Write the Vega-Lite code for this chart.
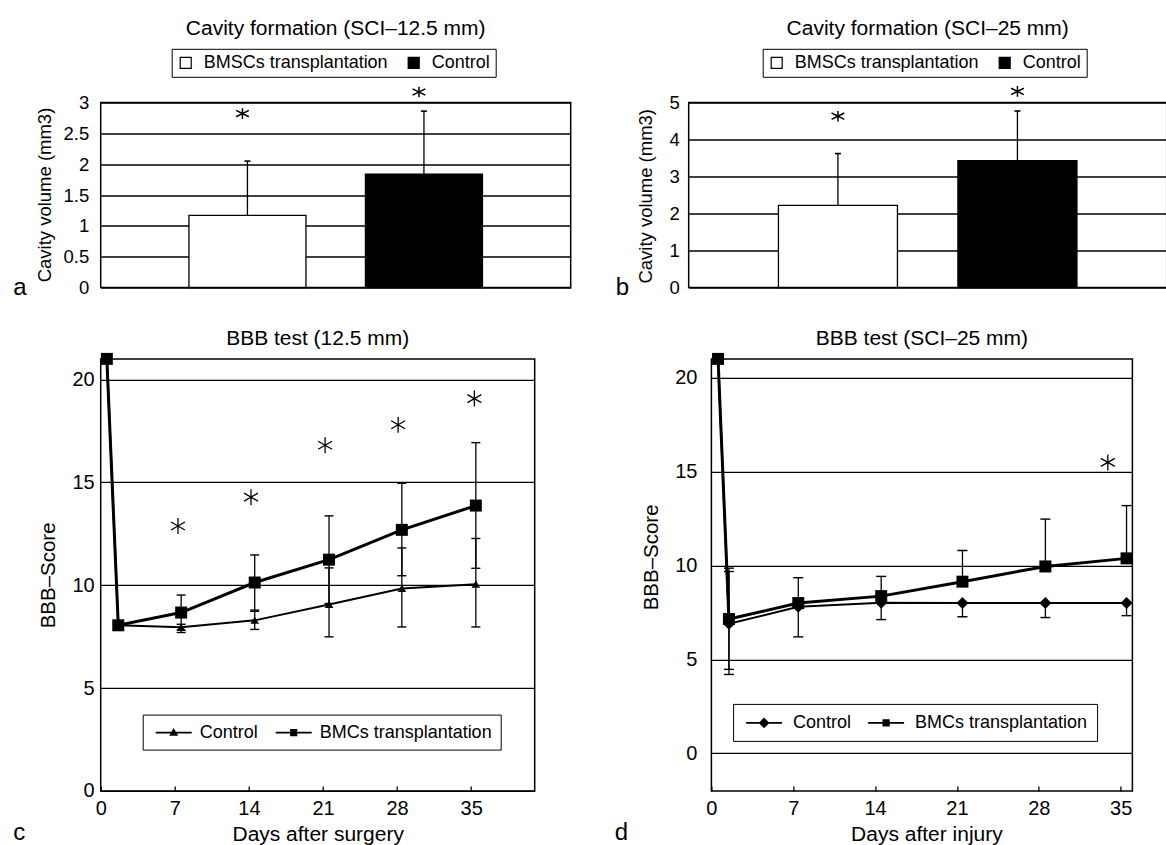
{
  "$schema": "https://vega.github.io/schema/vega-lite/v6.json",
  "background": "white",
  "padding": {"left": 11.7, "top": 16.5, "right": 0, "bottom": 0},
  "spacing": 25.4,
  "resolve": {"scale": {"fill": "independent", "shape": "independent"}},
  "config": {
    "font": "Liberation Sans",
    "view": {"stroke": "black", "strokeWidth": 1.5},
    "axis": {"labelColor": "black", "titleColor": "black", "titleFontWeight": "normal", "labelFont": "Liberation Sans", "titleFont": "Liberation Sans", "domain": false, "ticks": false, "grid": false, "gridColor": "black", "gridOpacity": 1, "gridWidth": 1.3, "labelFlush": false, "labelOverlap": false},
    "title": {"fontWeight": "normal", "color": "black", "font": "Liberation Sans"},
    "legend": {"labelColor": "black", "labelFont": "Liberation Sans", "labelLimit": 500}
  },
  "vconcat": [
    {
      "spacing": 42,
      "resolve": {"scale": {"fill": "independent"}},
      "hconcat": [
        {
          "width": 470,
          "height": 185,
          "title": {"text": "Cavity formation (SCI–12.5 mm)", "fontSize": 21, "baseline": "alphabetic", "offset": -7.6, "anchor": "middle"},
          "data": {"values": [
            {"group": "BMSCs transplantation", "volume": 1.17, "upper": 2.05, "star": 2.82},
            {"group": "Control", "volume": 1.84, "upper": 2.86, "star": 3.17}
          ]},
          "layer": [
            {
              "mark": {"type": "bar", "stroke": "black", "strokeWidth": 1.3},
              "encoding": {
                "x": {"field": "group", "type": "nominal", "sort": null, "scale": {"paddingInner": 0.337, "paddingOuter": 0.5},
                  "axis": {"labels": false, "title": "a", "titleX": -88, "titleY": 7.3, "titleAlign": "left", "titleBaseline": "alphabetic", "titleFontSize": 24, "titleAngle": 0}},
                "y": {"field": "volume", "type": "quantitative", "scale": {"domain": [0, 3], "nice": false},
                  "axis": {"values": [0, 0.5, 1, 1.5, 2, 2.5, 3], "format": "~g", "grid": true, "labelFontSize": 18.5, "labelPadding": 12, "title": "Cavity volume (mm3)", "titleFontSize": 18.5, "titleX": -50.3, "titleY": 92, "titleBaseline": "alphabetic", "titleAlign": "center", "titleAngle": -90}},
                "fill": {"field": "group", "type": "nominal", "scale": {"domain": ["BMSCs transplantation", "Control"], "range": ["white", "black"]},
                  "legend": {"orient": "none", "legendX": 71, "legendY": -53.7, "direction": "horizontal", "title": null, "strokeColor": "black", "fillColor": "white", "padding": 5, "labelFontSize": 18, "labelOffset": 9, "columnPadding": 16, "symbolType": "square", "symbolSize": 121, "symbolStrokeColor": "black", "symbolStrokeWidth": 1.2, "symbolOpacity": 1}}
              }
            },
            {
              "mark": {"type": "rule", "strokeWidth": 1.3, "color": "black"},
              "encoding": {
                "x": {"field": "group", "type": "nominal", "sort": null, "axis": {"labels": false, "title": "a", "titleX": -88, "titleY": 7.3, "titleAlign": "left", "titleBaseline": "alphabetic", "titleFontSize": 24, "titleAngle": 0}},
                "y": {"field": "volume", "type": "quantitative", "axis": {"values": [0, 0.5, 1, 1.5, 2, 2.5, 3], "format": "~g", "grid": true, "labelFontSize": 18.5, "labelPadding": 12, "title": "Cavity volume (mm3)", "titleFontSize": 18.5, "titleX": -50.3, "titleY": 92, "titleBaseline": "alphabetic", "titleAlign": "center", "titleAngle": -90}},
                "y2": {"field": "upper"}
              }
            },
            {
              "mark": {"type": "tick", "orient": "horizontal", "size": 6, "thickness": 1.6, "color": "black", "opacity": 1},
              "encoding": {
                "x": {"field": "group", "type": "nominal", "sort": null, "axis": {"labels": false, "title": "a", "titleX": -88, "titleY": 7.3, "titleAlign": "left", "titleBaseline": "alphabetic", "titleFontSize": 24, "titleAngle": 0}},
                "y": {"field": "upper", "type": "quantitative", "axis": {"values": [0, 0.5, 1, 1.5, 2, 2.5, 3], "format": "~g", "grid": true, "labelFontSize": 18.5, "labelPadding": 12, "title": "Cavity volume (mm3)", "titleFontSize": 18.5, "titleX": -50.3, "titleY": 92, "titleBaseline": "alphabetic", "titleAlign": "center", "titleAngle": -90}}
              }
            },
            {
              "mark": {"type": "point", "shape": "M0,-0.75L0,0.75M-0.9,-0.45L0.9,0.45M-0.9,0.45L0.9,-0.45", "size": 200, "stroke": "black", "strokeWidth": 1.5, "filled": false, "opacity": 1, "xOffset": -5},
              "encoding": {
                "x": {"field": "group", "type": "nominal", "sort": null, "axis": {"labels": false, "title": "a", "titleX": -88, "titleY": 7.3, "titleAlign": "left", "titleBaseline": "alphabetic", "titleFontSize": 24, "titleAngle": 0}},
                "y": {"field": "star", "type": "quantitative", "axis": {"values": [0, 0.5, 1, 1.5, 2, 2.5, 3], "format": "~g", "grid": true, "labelFontSize": 18.5, "labelPadding": 12, "title": "Cavity volume (mm3)", "titleFontSize": 18.5, "titleX": -50.3, "titleY": 92, "titleBaseline": "alphabetic", "titleAlign": "center", "titleAngle": -90}}
              }
            }
          ]
        },
        {
          "width": 478,
          "height": 185,
          "title": {"text": "Cavity formation (SCI–25 mm)", "fontSize": 21, "baseline": "alphabetic", "offset": -7.6, "anchor": "middle"},
          "data": {"values": [
            {"group": "BMSCs transplantation", "volume": 2.22, "upper": 3.62, "star": 4.63},
            {"group": "Control", "volume": 3.43, "upper": 4.77, "star": 5.3}
          ]},
          "layer": [
            {
              "mark": {"type": "bar", "stroke": "black", "strokeWidth": 1.3},
              "encoding": {
                "x": {"field": "group", "type": "nominal", "sort": null, "scale": {"paddingInner": 0.337, "paddingOuter": 0.5},
                  "axis": {"labels": false, "title": "b", "titleX": -73.4, "titleY": 7.3, "titleAlign": "left", "titleBaseline": "alphabetic", "titleFontSize": 24, "titleAngle": 0}},
                "y": {"field": "volume", "type": "quantitative", "scale": {"domain": [0, 5], "nice": false},
                  "axis": {"values": [0, 1, 2, 3, 4, 5], "format": "~g", "grid": true, "labelFontSize": 18.5, "labelPadding": 9.4, "title": "Cavity volume (mm3)", "titleFontSize": 18.5, "titleX": -37.3, "titleY": 93.3, "titleBaseline": "alphabetic", "titleAlign": "center", "titleAngle": -90}},
                "fill": {"field": "group", "type": "nominal", "scale": {"domain": ["BMSCs transplantation", "Control"], "range": ["white", "black"]},
                  "legend": {"orient": "none", "legendX": 74, "legendY": -53.7, "direction": "horizontal", "title": null, "strokeColor": "black", "fillColor": "white", "padding": 5, "labelFontSize": 18, "labelOffset": 9, "columnPadding": 16, "symbolType": "square", "symbolSize": 121, "symbolStrokeColor": "black", "symbolStrokeWidth": 1.2, "symbolOpacity": 1}}
              }
            },
            {
              "mark": {"type": "rule", "strokeWidth": 1.3, "color": "black"},
              "encoding": {
                "x": {"field": "group", "type": "nominal", "sort": null, "axis": {"labels": false, "title": "b", "titleX": -73.4, "titleY": 7.3, "titleAlign": "left", "titleBaseline": "alphabetic", "titleFontSize": 24, "titleAngle": 0}},
                "y": {"field": "volume", "type": "quantitative", "axis": {"values": [0, 1, 2, 3, 4, 5], "format": "~g", "grid": true, "labelFontSize": 18.5, "labelPadding": 9.4, "title": "Cavity volume (mm3)", "titleFontSize": 18.5, "titleX": -37.3, "titleY": 93.3, "titleBaseline": "alphabetic", "titleAlign": "center", "titleAngle": -90}},
                "y2": {"field": "upper"}
              }
            },
            {
              "mark": {"type": "tick", "orient": "horizontal", "size": 6, "thickness": 1.6, "color": "black", "opacity": 1},
              "encoding": {
                "x": {"field": "group", "type": "nominal", "sort": null, "axis": {"labels": false, "title": "b", "titleX": -73.4, "titleY": 7.3, "titleAlign": "left", "titleBaseline": "alphabetic", "titleFontSize": 24, "titleAngle": 0}},
                "y": {"field": "upper", "type": "quantitative", "axis": {"values": [0, 1, 2, 3, 4, 5], "format": "~g", "grid": true, "labelFontSize": 18.5, "labelPadding": 9.4, "title": "Cavity volume (mm3)", "titleFontSize": 18.5, "titleX": -37.3, "titleY": 93.3, "titleBaseline": "alphabetic", "titleAlign": "center", "titleAngle": -90}}
              }
            },
            {
              "mark": {"type": "point", "shape": "M0,-0.75L0,0.75M-0.9,-0.45L0.9,0.45M-0.9,0.45L0.9,-0.45", "size": 200, "stroke": "black", "strokeWidth": 1.5, "filled": false, "opacity": 1},
              "encoding": {
                "x": {"field": "group", "type": "nominal", "sort": null, "axis": {"labels": false, "title": "b", "titleX": -73.4, "titleY": 7.3, "titleAlign": "left", "titleBaseline": "alphabetic", "titleFontSize": 24, "titleAngle": 0}},
                "y": {"field": "star", "type": "quantitative", "axis": {"values": [0, 1, 2, 3, 4, 5], "format": "~g", "grid": true, "labelFontSize": 18.5, "labelPadding": 9.4, "title": "Cavity volume (mm3)", "titleFontSize": 18.5, "titleX": -37.3, "titleY": 93.3, "titleBaseline": "alphabetic", "titleAlign": "center", "titleAngle": -90}}
              }
            }
          ]
        }
      ]
    },
    {
      "spacing": 77.7,
      "resolve": {"scale": {"shape": "independent"}},
      "hconcat": [
        {
          "width": 434,
          "height": 432,
          "title": {"text": "BBB test (12.5 mm)", "fontSize": 21, "baseline": "alphabetic", "offset": -13.4, "anchor": "middle"},
          "data": {"values": [
            {"day": 0.58, "group": "Control", "score": 21},
            {"day": 1.66, "group": "Control", "score": 8.05},
            {"day": 7.6, "group": "Control", "score": 7.95, "lo": 7.7, "hi": 8.1},
            {"day": 14.55, "group": "Control", "score": 8.29, "lo": 7.85, "hi": 8.73},
            {"day": 21.57, "group": "Control", "score": 9.06, "lo": 7.49, "hi": 10.84},
            {"day": 28.45, "group": "Control", "score": 9.84, "lo": 7.97, "hi": 11.81},
            {"day": 35.44, "group": "Control", "score": 10.05, "lo": 7.97, "hi": 12.27},
            {"day": 0.58, "group": "BMCs transplantation", "score": 21},
            {"day": 1.66, "group": "BMCs transplantation", "score": 8.05},
            {"day": 7.6, "group": "BMCs transplantation", "score": 8.67, "lo": 7.82, "hi": 9.52},
            {"day": 14.55, "group": "BMCs transplantation", "score": 10.13, "lo": 8.79, "hi": 11.47},
            {"day": 21.57, "group": "BMCs transplantation", "score": 11.24, "lo": 9.11, "hi": 13.37},
            {"day": 28.45, "group": "BMCs transplantation", "score": 12.69, "lo": 10.46, "hi": 14.95},
            {"day": 35.44, "group": "BMCs transplantation", "score": 13.87, "lo": 10.82, "hi": 16.93}
          ]},
          "resolve": {"axis": {"x": "independent"}, "scale": {"shape": "independent"}},
          "layer": [
            {
              "transform": [{"filter": "datum.group === 'Control'"}],
              "mark": {"type": "line", "color": "black", "strokeWidth": 2},
              "encoding": {
                "x": {"field": "day", "type": "quantitative", "scale": {"domain": [0, 41], "nice": false, "zero": false},
                  "axis": {"orient": "bottom", "values": [0, 7, 14, 21, 28, 35], "ticks": true, "tickSize": -5, "tickColor": "black", "tickWidth": 1.3, "labelFontSize": 20, "labelPadding": 13, "title": "Days after surgery", "titleFontSize": 21, "titleX": 217, "titleY": 49.5, "titleBaseline": "alphabetic", "titleAlign": "center", "titleAngle": 0}},
                "y": {"field": "score", "type": "quantitative", "scale": {"domain": [0, 21], "nice": false},
                  "axis": {"values": [0, 5, 10, 15, 20], "grid": true, "labelFontSize": 20, "labelPadding": 6.5, "title": "BBB–Score", "titleFontSize": 20.5, "titleX": -46.1, "titleY": 216, "titleBaseline": "alphabetic", "titleAlign": "center", "titleAngle": -90}}
              }
            },
            {
              "transform": [{"filter": "datum.group === 'BMCs transplantation'"}],
              "mark": {"type": "line", "color": "black", "strokeWidth": 3},
              "encoding": {
                "x": {"field": "day", "type": "quantitative", "axis": null},
                "y": {"field": "score", "type": "quantitative", "axis": {"values": [0, 5, 10, 15, 20], "grid": true, "labelFontSize": 20, "labelPadding": 6.5, "title": "BBB–Score", "titleFontSize": 20.5, "titleX": -46.1, "titleY": 216, "titleBaseline": "alphabetic", "titleAlign": "center", "titleAngle": -90}}
              }
            },
            {
              "transform": [{"filter": "isValid(datum.hi)"}],
              "mark": {"type": "rule", "color": "black", "strokeWidth": 1.3},
              "encoding": {
                "x": {"field": "day", "type": "quantitative", "axis": null},
                "y": {"field": "score", "type": "quantitative", "axis": {"values": [0, 5, 10, 15, 20], "grid": true, "labelFontSize": 20, "labelPadding": 6.5, "title": "BBB–Score", "titleFontSize": 20.5, "titleX": -46.1, "titleY": 216, "titleBaseline": "alphabetic", "titleAlign": "center", "titleAngle": -90}},
                "y2": {"field": "hi"}
              }
            },
            {
              "transform": [{"filter": "isValid(datum.lo)"}],
              "mark": {"type": "rule", "color": "black", "strokeWidth": 1.3},
              "encoding": {
                "x": {"field": "day", "type": "quantitative", "axis": null},
                "y": {"field": "lo", "type": "quantitative", "axis": {"values": [0, 5, 10, 15, 20], "grid": true, "labelFontSize": 20, "labelPadding": 6.5, "title": "BBB–Score", "titleFontSize": 20.5, "titleX": -46.1, "titleY": 216, "titleBaseline": "alphabetic", "titleAlign": "center", "titleAngle": -90}},
                "y2": {"field": "score"}
              }
            },
            {
              "transform": [{"filter": "isValid(datum.hi)"}],
              "mark": {"type": "tick", "orient": "horizontal", "size": 9, "thickness": 1.4, "color": "black", "opacity": 1},
              "encoding": {
                "x": {"field": "day", "type": "quantitative", "axis": null},
                "y": {"field": "hi", "type": "quantitative", "axis": {"values": [0, 5, 10, 15, 20], "grid": true, "labelFontSize": 20, "labelPadding": 6.5, "title": "BBB–Score", "titleFontSize": 20.5, "titleX": -46.1, "titleY": 216, "titleBaseline": "alphabetic", "titleAlign": "center", "titleAngle": -90}}
              }
            },
            {
              "transform": [{"filter": "isValid(datum.lo)"}],
              "mark": {"type": "tick", "orient": "horizontal", "size": 9, "thickness": 1.4, "color": "black", "opacity": 1},
              "encoding": {
                "x": {"field": "day", "type": "quantitative", "axis": null},
                "y": {"field": "lo", "type": "quantitative", "axis": {"values": [0, 5, 10, 15, 20], "grid": true, "labelFontSize": 20, "labelPadding": 6.5, "title": "BBB–Score", "titleFontSize": 20.5, "titleX": -46.1, "titleY": 216, "titleBaseline": "alphabetic", "titleAlign": "center", "titleAngle": -90}}
              }
            },
            {
              "mark": {"type": "point", "filled": true, "color": "black", "opacity": 1, "size": 144},
              "encoding": {
                "x": {"field": "day", "type": "quantitative", "axis": null},
                "y": {"field": "score", "type": "quantitative", "axis": {"values": [0, 5, 10, 15, 20], "grid": true, "labelFontSize": 20, "labelPadding": 6.5, "title": "BBB–Score", "titleFontSize": 20.5, "titleX": -46.1, "titleY": 216, "titleBaseline": "alphabetic", "titleAlign": "center", "titleAngle": -90}},
                "shape": {"field": "group", "type": "nominal", "scale": {"domain": ["Control", "BMCs transplantation"], "range": ["M0,-0.62L0.72,0.58L-0.72,0.58Z", "square"]}, "legend": null}
              }
            },
            {
              "transform": [{"filter": "false"}],
              "mark": {"type": "point", "filled": true, "color": "black", "opacity": 1, "size": 324},
              "encoding": {
                "x": {"field": "day", "type": "quantitative", "axis": null},
                "y": {"field": "score", "type": "quantitative", "axis": {"values": [0, 5, 10, 15, 20], "grid": true, "labelFontSize": 20, "labelPadding": 6.5, "title": "BBB–Score", "titleFontSize": 20.5, "titleX": -46.1, "titleY": 216, "titleBaseline": "alphabetic", "titleAlign": "center", "titleAngle": -90}},
                "shape": {"field": "group", "type": "nominal", "scale": {"domain": ["Control", "BMCs transplantation"], "range": ["M-2,-0.09H2V0.09H-2ZM0,-0.5L0.5,0.35L-0.5,0.35Z", "M-2,-0.09H2V0.09H-2ZM-0.4,-0.4H0.4V0.4H-0.4Z"]},
                  "legend": {"orient": "none", "legendX": 42, "legendY": 355.7, "direction": "horizontal", "title": null, "strokeColor": "black", "fillColor": "white", "padding": 8, "labelFontSize": 18, "symbolSize": 324, "symbolOffset": 13, "labelOffset": 16, "columnPadding": 12, "symbolFillColor": "black", "symbolOpacity": 1}}
              }
            },
            {
              "data": {"values": [
                {"day": 7.3, "star": 12.88},
                {"day": 14.2, "star": 14.28},
                {"day": 21.2, "star": 16.8},
                {"day": 28.1, "star": 17.8},
                {"day": 35.3, "star": 19.07}
              ]},
              "mark": {"type": "point", "shape": "M0,-1L0,1M-0.87,-0.5L0.87,0.5M-0.87,0.5L0.87,-0.5", "size": 256, "stroke": "black", "strokeWidth": 1.3, "filled": false, "opacity": 1},
              "encoding": {
                "x": {"field": "day", "type": "quantitative",
                  "axis": {"orient": "top", "labels": false, "ticks": false, "domain": false, "grid": false, "title": "c", "titleX": -88, "titleY": 481, "titleFontSize": 24, "titleAlign": "left", "titleBaseline": "alphabetic", "titleAngle": 0}},
                "y": {"field": "star", "type": "quantitative", "axis": {"values": [0, 5, 10, 15, 20], "grid": true, "labelFontSize": 20, "labelPadding": 6.5, "title": "BBB–Score", "titleFontSize": 20.5, "titleX": -46.1, "titleY": 216, "titleBaseline": "alphabetic", "titleAlign": "center", "titleAngle": -90}}
              }
            }
          ]
        },
        {
          "width": 421,
          "height": 432,
          "title": {"text": "BBB test (SCI–25 mm)", "fontSize": 21, "baseline": "alphabetic", "offset": -13.4, "anchor": "middle"},
          "data": {"values": [
            {"day": 0.57, "group": "BMCs transplantation", "score": 21},
            {"day": 1.5, "group": "BMCs transplantation", "score": 7.15, "lo": 4.47, "hi": 9.86},
            {"day": 7.43, "group": "BMCs transplantation", "score": 8.0, "hi": 9.35},
            {"day": 14.52, "group": "BMCs transplantation", "score": 8.37, "hi": 9.42},
            {"day": 21.47, "group": "BMCs transplantation", "score": 9.14, "hi": 10.8},
            {"day": 28.56, "group": "BMCs transplantation", "score": 9.95, "hi": 12.47},
            {"day": 35.5, "group": "BMCs transplantation", "score": 10.38, "hi": 13.19},
            {"day": 0.57, "group": "Control", "score": 21},
            {"day": 1.5, "group": "Control", "score": 6.9, "lo": 4.2, "hi": 9.68},
            {"day": 7.43, "group": "Control", "score": 7.8, "lo": 6.2},
            {"day": 14.52, "group": "Control", "score": 8.02, "lo": 7.12},
            {"day": 21.47, "group": "Control", "score": 8.0, "lo": 7.27},
            {"day": 28.56, "group": "Control", "score": 8.0, "lo": 7.23},
            {"day": 35.5, "group": "Control", "score": 8.0, "lo": 7.33}
          ]},
          "resolve": {"axis": {"x": "independent"}, "scale": {"shape": "independent"}},
          "layer": [
            {
              "transform": [{"filter": "datum.group === 'Control'"}],
              "mark": {"type": "line", "color": "black", "strokeWidth": 2},
              "encoding": {
                "x": {"field": "day", "type": "quantitative", "scale": {"domain": [0, 36], "nice": false, "zero": false},
                  "axis": {"orient": "bottom", "values": [0, 7, 14, 21, 28, 35], "ticks": true, "tickSize": -5, "tickColor": "black", "tickWidth": 1.3, "labelFontSize": 20, "labelPadding": 13, "title": "Days after injury", "titleFontSize": 21, "titleX": 215, "titleY": 49.5, "titleBaseline": "alphabetic", "titleAlign": "center", "titleAngle": 0}},
                "y": {"field": "score", "type": "quantitative", "scale": {"domain": [-2, 21], "nice": false, "zero": false},
                  "axis": {"values": [0, 5, 10, 15, 20], "grid": true, "labelFontSize": 20, "labelPadding": 14.5, "title": "BBB–Score", "titleFontSize": 20.5, "titleX": -54.2, "titleY": 198, "titleBaseline": "alphabetic", "titleAlign": "center", "titleAngle": -90}}
              }
            },
            {
              "transform": [{"filter": "datum.group === 'BMCs transplantation'"}],
              "mark": {"type": "line", "color": "black", "strokeWidth": 3},
              "encoding": {
                "x": {"field": "day", "type": "quantitative", "axis": null},
                "y": {"field": "score", "type": "quantitative", "axis": {"values": [0, 5, 10, 15, 20], "grid": true, "labelFontSize": 20, "labelPadding": 14.5, "title": "BBB–Score", "titleFontSize": 20.5, "titleX": -54.2, "titleY": 198, "titleBaseline": "alphabetic", "titleAlign": "center", "titleAngle": -90}}
              }
            },
            {
              "transform": [{"filter": "isValid(datum.hi)"}],
              "mark": {"type": "rule", "color": "black", "strokeWidth": 1.3},
              "encoding": {
                "x": {"field": "day", "type": "quantitative", "axis": null},
                "y": {"field": "score", "type": "quantitative", "axis": {"values": [0, 5, 10, 15, 20], "grid": true, "labelFontSize": 20, "labelPadding": 14.5, "title": "BBB–Score", "titleFontSize": 20.5, "titleX": -54.2, "titleY": 198, "titleBaseline": "alphabetic", "titleAlign": "center", "titleAngle": -90}},
                "y2": {"field": "hi"}
              }
            },
            {
              "transform": [{"filter": "isValid(datum.lo)"}],
              "mark": {"type": "rule", "color": "black", "strokeWidth": 1.3},
              "encoding": {
                "x": {"field": "day", "type": "quantitative", "axis": null},
                "y": {"field": "lo", "type": "quantitative", "axis": {"values": [0, 5, 10, 15, 20], "grid": true, "labelFontSize": 20, "labelPadding": 14.5, "title": "BBB–Score", "titleFontSize": 20.5, "titleX": -54.2, "titleY": 198, "titleBaseline": "alphabetic", "titleAlign": "center", "titleAngle": -90}},
                "y2": {"field": "score"}
              }
            },
            {
              "transform": [{"filter": "isValid(datum.hi)"}],
              "mark": {"type": "tick", "orient": "horizontal", "size": 10, "thickness": 1.4, "color": "black", "opacity": 1},
              "encoding": {
                "x": {"field": "day", "type": "quantitative", "axis": null},
                "y": {"field": "hi", "type": "quantitative", "axis": {"values": [0, 5, 10, 15, 20], "grid": true, "labelFontSize": 20, "labelPadding": 14.5, "title": "BBB–Score", "titleFontSize": 20.5, "titleX": -54.2, "titleY": 198, "titleBaseline": "alphabetic", "titleAlign": "center", "titleAngle": -90}}
              }
            },
            {
              "transform": [{"filter": "isValid(datum.lo)"}],
              "mark": {"type": "tick", "orient": "horizontal", "size": 10, "thickness": 1.4, "color": "black", "opacity": 1},
              "encoding": {
                "x": {"field": "day", "type": "quantitative", "axis": null},
                "y": {"field": "lo", "type": "quantitative", "axis": {"values": [0, 5, 10, 15, 20], "grid": true, "labelFontSize": 20, "labelPadding": 14.5, "title": "BBB–Score", "titleFontSize": 20.5, "titleX": -54.2, "titleY": 198, "titleBaseline": "alphabetic", "titleAlign": "center", "titleAngle": -90}}
              }
            },
            {
              "mark": {"type": "point", "filled": true, "color": "black", "opacity": 1, "size": 144},
              "encoding": {
                "x": {"field": "day", "type": "quantitative", "axis": null},
                "y": {"field": "score", "type": "quantitative", "axis": {"values": [0, 5, 10, 15, 20], "grid": true, "labelFontSize": 20, "labelPadding": 14.5, "title": "BBB–Score", "titleFontSize": 20.5, "titleX": -54.2, "titleY": 198, "titleBaseline": "alphabetic", "titleAlign": "center", "titleAngle": -90}},
                "shape": {"field": "group", "type": "nominal", "scale": {"domain": ["Control", "BMCs transplantation"], "range": ["diamond", "square"]}, "legend": null}
              }
            },
            {
              "transform": [{"filter": "false"}],
              "mark": {"type": "point", "filled": true, "color": "black", "opacity": 1, "size": 324},
              "encoding": {
                "x": {"field": "day", "type": "quantitative", "axis": null},
                "y": {"field": "score", "type": "quantitative", "axis": {"values": [0, 5, 10, 15, 20], "grid": true, "labelFontSize": 20, "labelPadding": 14.5, "title": "BBB–Score", "titleFontSize": 20.5, "titleX": -54.2, "titleY": 198, "titleBaseline": "alphabetic", "titleAlign": "center", "titleAngle": -90}},
                "shape": {"field": "group", "type": "nominal", "scale": {"domain": ["Control", "BMCs transplantation"], "range": ["M-2,-0.09H2V0.09H-2ZM0,-0.6L0.6,0L0,0.6L-0.6,0Z", "M-2,-0.09H2V0.09H-2ZM-0.4,-0.4H0.4V0.4H-0.4Z"]},
                  "legend": {"orient": "none", "legendX": 21.7, "legendY": 345, "direction": "horizontal", "title": null, "strokeColor": "black", "fillColor": "white", "padding": 9, "labelFontSize": 18, "symbolSize": 324, "symbolOffset": 12, "labelOffset": 19, "columnPadding": 12, "symbolFillColor": "black", "symbolOpacity": 1}}
              }
            },
            {
              "data": {"values": [
                {"day": 33.9, "star": 15.49}
              ]},
              "mark": {"type": "point", "shape": "M0,-1L0,1M-0.87,-0.5L0.87,0.5M-0.87,0.5L0.87,-0.5", "size": 256, "stroke": "black", "strokeWidth": 1.3, "filled": false, "opacity": 1},
              "encoding": {
                "x": {"field": "day", "type": "quantitative",
                  "axis": {"orient": "top", "labels": false, "ticks": false, "domain": false, "grid": false, "title": "d", "titleX": -97.2, "titleY": 481, "titleFontSize": 24, "titleAlign": "left", "titleBaseline": "alphabetic", "titleAngle": 0}},
                "y": {"field": "star", "type": "quantitative", "axis": {"values": [0, 5, 10, 15, 20], "grid": true, "labelFontSize": 20, "labelPadding": 14.5, "title": "BBB–Score", "titleFontSize": 20.5, "titleX": -54.2, "titleY": 198, "titleBaseline": "alphabetic", "titleAlign": "center", "titleAngle": -90}}
              }
            }
          ]
        }
      ]
    }
  ]
}
